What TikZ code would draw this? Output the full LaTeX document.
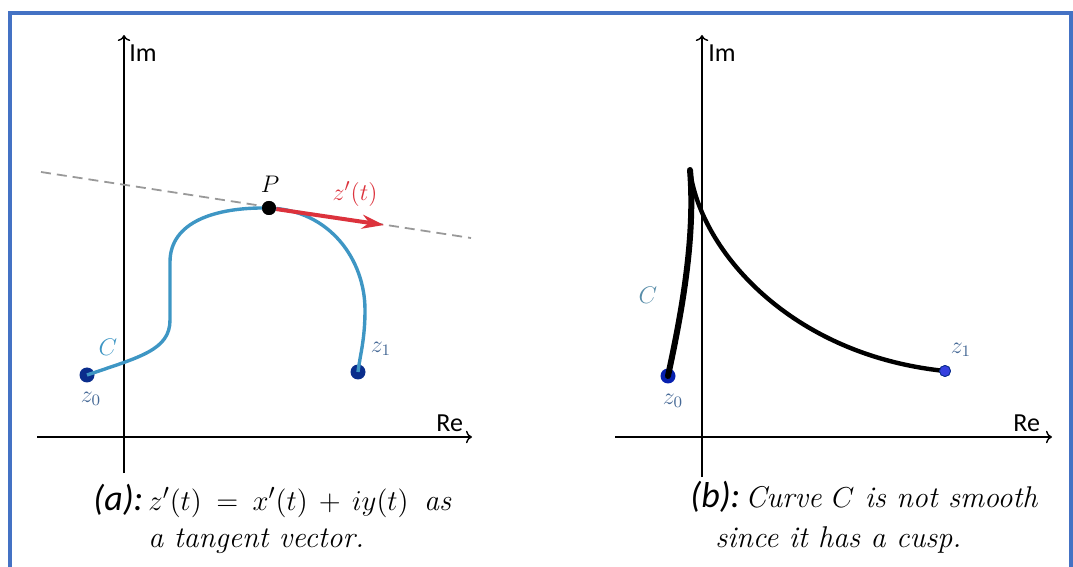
\documentclass[tikz,border=0pt]{standalone}
\usepackage{amsmath}
\usepackage{fontspec}
\newfontfamily\calfont{Carlito}
\usepackage{xcolor}
\usetikzlibrary{positioning, arrows.meta}

\definecolor{framecol}{RGB}{68,114,196}
\definecolor{curvecol}{RGB}{62,150,196}
\definecolor{dotcol}{RGB}{10,45,140}
\definecolor{labcol}{RGB}{70,105,150}
\definecolor{tancol}{RGB}{220,50,60}
\newcommand{\capmark}{\calfont\itshape\fontsize{18}{20}\selectfont}

\begin{document}
\begin{tikzpicture}[x=0.5pt, y=-0.5pt, >=Stealth,
    axis/.style={line width=0.7pt, -{To[length=3pt]}},
    axislab/.style={font=\calfont\fontsize{13}{15}\selectfont, inner sep=0pt, anchor=base west},
    dot/.style={circle, fill=dotcol, inner sep=0pt, minimum size=#1},
    ptlab/.style={text=labcol, font=\fontsize{11.5}{13}\selectfont, inner sep=1pt},
    caption/.style={font=\fontsize{15}{17}\selectfont\itshape, inner sep=0pt, anchor=base west}]
    \useasboundingbox (0,0) rectangle (1073,567);
    \draw[framecol, line width=1.8pt] (10,13) rectangle (1071,600);

    % (a) tangent vector
    \coordinate (imA0) at (124,473);
    \coordinate (imA1) at (124,35);
    \coordinate (reA0) at (37,437);
    \coordinate (reA1) at (472,437);
    \draw[axis] (imA0) -- (imA1);
    \draw[axis] (reA0) -- (reA1);
    \node[axislab] (imAl) at (129,62) {Im};
    \node[axislab] (reAl) at (436,431) {Re};

    \coordinate (tanA) at (41,172);
    \coordinate (tanB) at (471,238);
    \draw[gray!80, dashed, dash pattern=on 5pt off 3pt, line width=0.9pt] (tanA) -- (tanB);

    \node[dot=7.5pt] (z0) at (87,375) {};
    \node[dot=7.5pt] (z1) at (358,372) {};
    \node[dot=7pt, fill=black] (P) at (269,208) {};
    \draw[curvecol, line width=1.7pt]
        (z0.center) .. controls (140,357) and (170,350) .. (170,320) -- (170,262)
        .. controls (170,222) and (215,207) .. (P.center)
        .. controls (330,210) and (365,260) .. (365,310)
        .. controls (365,340) and (360,355) .. (z1.center);
    \node[dot=7pt, fill=black] at (P) {};
    \coordinate (tip) at (384,225);
    \draw[tancol, line width=2pt, -{Stealth[length=11pt, width=7pt]}] (P) -- (tip);

    \node[font=\fontsize{12}{14}\selectfont] (Pl) at (270,184) {$P$};
    \node[text=tancol, font=\fontsize{13}{15}\selectfont] (zdl) at (355,194) {$z'(t)$};
    \node[ptlab, text=curvecol, font=\fontsize{13}{15}\selectfont] (CA) at (108,347) {$C$};
    \node[ptlab] (z0l) at (91,399) {$z_0$};
    \node[ptlab] (z1l) at (381,349) {$z_1$};

    \node[caption] (capA) at (93,510) {{\capmark(a):}\,$\thickmuskip=9mu \medmuskip=7mu z'(t)=x'(t)+iy(t)$\, as};
    \node[caption] (capA2) at (148,547) {a tangent vector.};

    % (b) cusp
    \coordinate (imB0) at (702,477);
    \coordinate (imB1) at (702,35);
    \coordinate (reB0) at (615,437);
    \coordinate (reB1) at (1052,437);
    \draw[axis] (imB0) -- (imB1);
    \draw[axis] (reB0) -- (reB1);
    \node[axislab] (imBl) at (708,62) {Im};
    \node[axislab] (reBl) at (1013,431) {Re};

    \node[dot=7.5pt, fill=dotcol!70!blue] (w0) at (668,376) {};
    \node[dot=5.5pt, fill=blue!65!dotcol!80!white, draw=dotcol, line width=0.4pt] (w1) at (945,371) {};
    \coordinate (cusp) at (690,170);
    \draw[line width=3pt, line cap=round] (w0.center) .. controls (680,320) and (696,240) .. (cusp);
    \draw[line width=2.2pt, line cap=round] (cusp) .. controls (700,250) and (790,355) .. (w1.center);
    \node[dot=5.5pt, fill=blue!65!dotcol!80!white, draw=dotcol, line width=0.4pt] at (w1) {};

    \node[ptlab, text=curvecol!60!gray, font=\fontsize{13}{15}\selectfont] (CB) at (648,295) {$C$};
    \node[ptlab] (w0l) at (673,401) {$z_0$};
    \node[ptlab] (w1l) at (961,350) {$z_1$};

    \node[caption] (capB) at (690,508) {{\capmark(b):}\,Curve $C$ is not smooth};
    \node[caption] (capB2) at (715,547) {since it has a cusp.};
\end{tikzpicture}
\end{document}
